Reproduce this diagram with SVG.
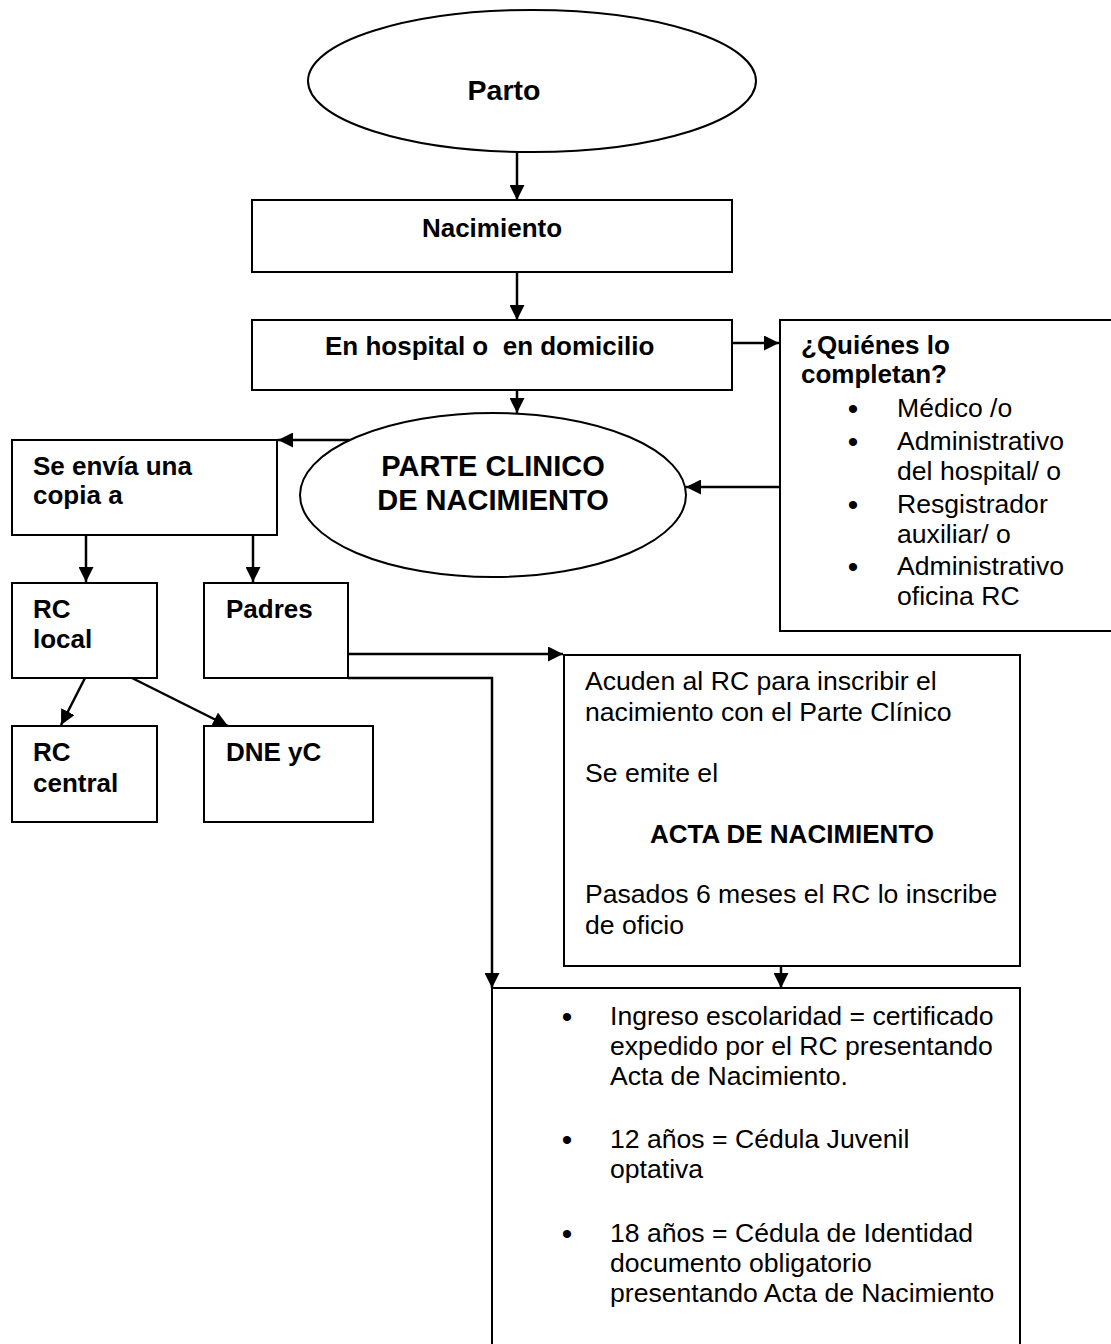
<svg xmlns="http://www.w3.org/2000/svg" width="1111" height="1344" viewBox="0 0 1111 1344">
<style>
.shape{fill:#fff;stroke:#000;stroke-width:2}
.conn{fill:none;stroke:#000;stroke-width:2.5;marker-end:url(#ah)}
text{font-family:"Liberation Sans",Arial,sans-serif;fill:#000}
.b{font-weight:bold;font-size:26px}
.r{font-size:26.6px}
.big{font-weight:bold;font-size:29px}
.bul{font-size:30px}
</style>
<defs>
<marker id="ah" viewBox="0 0 15 15" refX="15" refY="7.5" markerWidth="15" markerHeight="15" markerUnits="userSpaceOnUse" orient="auto">
<path d="M0,0 L15,7.5 L0,15 z" fill="#000"/>
</marker>
</defs>
<rect width="1111" height="1344" fill="#fff"/>

<g id="connectors">
<line class="conn" x1="517" y1="152" x2="517" y2="200"/>
<line class="conn" x1="517" y1="272" x2="517" y2="320"/>
<line class="conn" x1="732" y1="343" x2="779" y2="343"/>
<line class="conn" x1="517" y1="390" x2="517" y2="413"/>
<line class="conn" x1="780" y1="487" x2="686" y2="487"/>
<line class="conn" x1="350" y1="440" x2="278" y2="440"/>
<line class="conn" x1="86" y1="535" x2="86" y2="582"/>
<line class="conn" x1="253" y1="535" x2="253" y2="582"/>
<line class="conn" x1="85" y1="678" x2="61" y2="725"/>
<line class="conn" x1="132" y1="678" x2="228" y2="726"/>
<line class="conn" x1="348" y1="654" x2="563" y2="654"/>
<polyline class="conn" points="348,678 492,678 492,988"/>
<line class="conn" x1="781" y1="966" x2="781" y2="988"/>
</g>

<g id="parto">
<ellipse class="shape" cx="532" cy="81" rx="224" ry="71"/>
<text class="b" x="504" y="100" text-anchor="middle" style="font-size:28.5px">Parto</text>
</g>

<g id="nacimiento">
<rect class="shape" x="252" y="200" width="480" height="72"/>
<text class="b" x="492" y="237" text-anchor="middle">Nacimiento</text>
</g>

<g id="hospital">
<rect class="shape" x="252" y="320" width="480" height="70"/>
<text class="b" x="325" y="355" xml:space="preserve">En hospital o  en domicilio</text>
</g>

<g id="quienes">
<rect class="shape" x="780" y="320" width="333" height="311"/>
<text class="b" x="801" y="354">¿Quiénes lo</text>
<text class="b" x="801" y="383">completan?</text>
<text class="bul" x="853" y="419" text-anchor="middle">•</text>
<text class="bul" x="853" y="452" text-anchor="middle">•</text>
<text class="bul" x="853" y="515" text-anchor="middle">•</text>
<text class="bul" x="853" y="577" text-anchor="middle">•</text>
<g class="r">
<text x="897" y="417">Médico /o</text>
<text x="897" y="450">Administrativo</text>
<text x="897" y="480">del hospital/ o</text>
<text x="897" y="513">Resgistrador</text>
<text x="897" y="543">auxiliar/ o</text>
<text x="897" y="575">Administrativo</text>
<text x="897" y="605">oficina RC</text>
</g>
</g>

<g id="parte-clinico">
<ellipse class="shape" cx="493" cy="495" rx="193" ry="82"/>
<text class="big" x="493" y="476" text-anchor="middle">PARTE CLINICO</text>
<text class="big" x="493" y="510" text-anchor="middle">DE NACIMIENTO</text>
</g>

<g id="se-envia">
<rect class="shape" x="12" y="440" width="265" height="95"/>
<text class="b" x="33" y="475">Se envía una</text>
<text class="b" x="33" y="504">copia a</text>
</g>

<g id="rc-local">
<rect class="shape" x="12" y="583" width="145" height="95"/>
<text class="b" x="33" y="618">RC</text>
<text class="b" x="33" y="648">local</text>
</g>

<g id="padres">
<rect class="shape" x="204" y="583" width="144" height="95"/>
<text class="b" x="226" y="618">Padres</text>
</g>

<g id="rc-central">
<rect class="shape" x="12" y="726" width="145" height="96"/>
<text class="b" x="33" y="761">RC</text>
<text class="b" x="33" y="792">central</text>
</g>

<g id="dne">
<rect class="shape" x="204" y="726" width="169" height="96"/>
<text class="b" x="226" y="761">DNE yC</text>
</g>

<g id="acuden">
<rect class="shape" x="564" y="655" width="456" height="311"/>
<text class="r" x="585" y="690">Acuden al RC para inscribir el</text>
<text class="r" x="585" y="721">nacimiento con el Parte Clínico</text>
<text class="r" x="585" y="782">Se emite el</text>
<text class="b" x="792" y="843" text-anchor="middle">ACTA DE NACIMIENTO</text>
<text class="r" x="585" y="903">Pasados 6 meses el RC lo inscribe</text>
<text class="r" x="585" y="934">de oficio</text>
</g>

<g id="documentos">
<rect class="shape" x="492" y="988" width="528" height="370"/>
<text class="bul" x="567" y="1027" text-anchor="middle">•</text>
<text class="bul" x="567" y="1150" text-anchor="middle">•</text>
<text class="bul" x="567" y="1244" text-anchor="middle">•</text>
<g class="r">
<text x="610" y="1025">Ingreso escolaridad = certificado</text>
<text x="610" y="1055">expedido por el RC presentando</text>
<text x="610" y="1085">Acta de Nacimiento.</text>
<text x="610" y="1148">12 años = Cédula Juvenil</text>
<text x="610" y="1178">optativa</text>
<text x="610" y="1242">18 años = Cédula de Identidad</text>
<text x="610" y="1272">documento obligatorio</text>
<text x="610" y="1302">presentando Acta de Nacimiento</text>
</g>
</g>
</svg>
